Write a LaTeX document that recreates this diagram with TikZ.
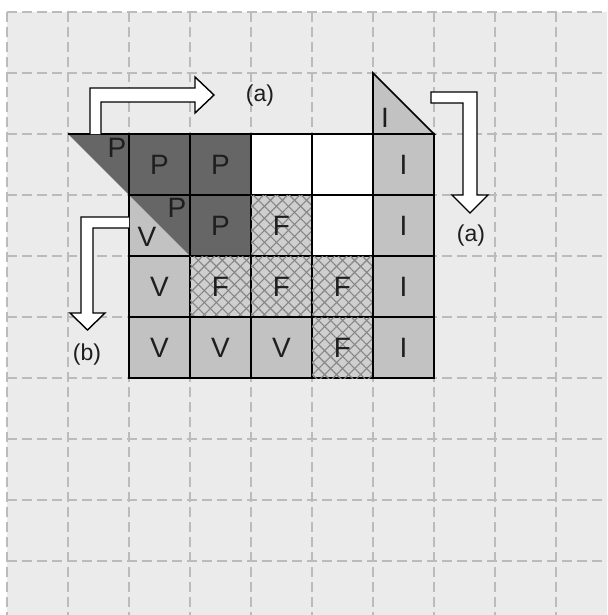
\documentclass[tikz,border=0pt]{standalone}
\usepackage{fontspec}
\setmainfont{Liberation Sans}
\usetikzlibrary{patterns.meta}
\definecolor{bgc}{HTML}{EBEBEB}
\definecolor{gridc}{HTML}{BBBBBB}
\definecolor{dk}{HTML}{666666}
\definecolor{lt}{HTML}{C2C2C2}
\definecolor{hb}{HTML}{CFCFCF}
\definecolor{hl}{HTML}{858585}
\definecolor{txt}{HTML}{1E1E1E}
\tikzset{
  cell/.style={draw=black, line width=1.8pt, minimum size=61pt, inner sep=0pt, text=txt, font=\fontsize{28}{28}\selectfont},
  dkcell/.style={cell, fill=dk},
  ltcell/.style={cell, fill=lt},
  whcell/.style={cell, fill=white},
  hcell/.style={cell, fill=hb,
    postaction={pattern={Lines[angle=45,distance=8.5pt,line width=1.1pt]}, pattern color=hl},
    postaction={pattern={Lines[angle=-45,distance=8.5pt,line width=1.1pt]}, pattern color=hl}},
  lbl/.style={inner sep=0pt, text=txt, font=\fontsize{28}{28}\selectfont},
  albl/.style={inner sep=0pt, text=txt, font=\fontsize{23}{23}\selectfont},
  gridln/.style={draw=gridc, line width=1.4pt, dash pattern=on 10pt off 5pt},
  fatarrow/.style={draw=black, fill=white, line width=1.4pt, line join=miter},
  tri/.style={draw=black, line width=1.6pt, line join=miter}
}
\begin{document}
\begin{tikzpicture}[x=1pt,y=-1pt]
\useasboundingbox (0,0) rectangle (607,615);
\fill[white] (0,0) rectangle (607,615);
\fill[bgc] (7,12) rectangle (607,615);
% dashed grid
\foreach \i in {0,...,9} {
  \draw[gridln] (7+61*\i,12) -- (7+61*\i,615);
  \draw[gridln] (7,12+61*\i) -- (607,12+61*\i);
}
% triangles outside / split cell
\coordinate (tA) at (68,134);
\coordinate (tB) at (129,134);
\coordinate (tC) at (129,195);
\coordinate (sD) at (190,195);
\coordinate (sE) at (190,256);
\coordinate (sF) at (129,256);
\coordinate (iA) at (373,73);
\coordinate (iB) at (373,134);
\coordinate (iC) at (434,134);
% row 1
\node[dkcell] (c11) at (159.5,164.5) {P};
\node[dkcell] (c12) at (220.5,164.5) {P};
\node[whcell] (c13) at (281.5,164.5) {};
\node[whcell] (c14) at (342.5,164.5) {};
\node[ltcell] (c15) at (403.5,164.5) {I};
% row 2
\fill[lt] (tC) -- (sF) -- (sE) -- cycle;
\fill[dk] (tC) -- (sD) -- (sE) -- cycle;
\node[cell] (c21) at (159.5,225.5) {};
\node[dkcell] (c22) at (220.5,225.5) {P};
\node[hcell] (c23) at (281.5,225.5) {F};
\node[whcell] (c24) at (342.5,225.5) {};
\node[ltcell] (c25) at (403.5,225.5) {I};
% row 3
\node[ltcell] (c31) at (159.5,286.5) {V};
\node[hcell] (c32) at (220.5,286.5) {F};
\node[hcell] (c33) at (281.5,286.5) {F};
\node[hcell] (c34) at (342.5,286.5) {F};
\node[ltcell] (c35) at (403.5,286.5) {I};
% row 4
\node[ltcell] (c41) at (159.5,347.5) {V};
\node[ltcell] (c42) at (220.5,347.5) {V};
\node[ltcell] (c43) at (281.5,347.5) {V};
\node[hcell] (c44) at (342.5,347.5) {F};
\node[ltcell] (c45) at (403.5,347.5) {I};
% left P triangle
\fill[dk] (tA) -- (tB) -- (tC) -- cycle;
\draw[tri] (tA) -- (tB) -- (tC);
\node[lbl] (pt) at (117,148) {P};
\node[lbl] (ps) at (177,208) {P};
\node[lbl] (vs) at (147,237) {V};
% top I triangle
\draw[tri, fill=lt] (iA) -- (iB) -- (iC) -- cycle;
\node[lbl] (it) at (385,118) {I};
% fat arrows
\draw[fatarrow] (90,134) -- (90,88) -- (195,88) -- (195,77) -- (214,95) -- (195,113) -- (195,102) -- (101,102) -- (101,134);
\draw[fatarrow] (431,92) -- (477,92) -- (477,195) -- (488,195) -- (470,213) -- (452,195) -- (463,195) -- (463,103) -- (431,103) -- cycle;
\draw[fatarrow] (129,217) -- (81,217) -- (81,313) -- (70,313) -- (87.5,330) -- (105,313) -- (93,313) -- (93,228) -- (129,228);
% labels
\node[albl] (la1) at (260,96) {(a)};
\node[albl] (la2) at (471,236) {(a)};
\node[albl] (lb) at (87,355) {(b)};
\end{tikzpicture}
\end{document}
